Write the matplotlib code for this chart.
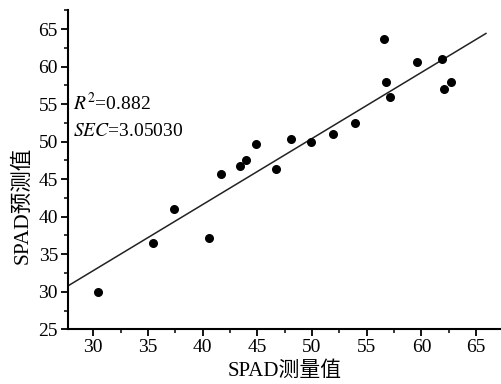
import numpy as np
import matplotlib
matplotlib.use('Agg')
import matplotlib.pyplot as plt
from matplotlib.ticker import MultipleLocator

plt.rcParams['font.family'] = ['Liberation Serif', 'Noto Sans CJK SC']
plt.rcParams['mathtext.fontset'] = 'stix'

measured = [30.4, 35.5, 37.4, 40.6, 41.7, 43.4, 44.0, 44.9, 46.7, 48.1,
            49.9, 51.9, 53.9, 56.6, 56.8, 57.1, 59.6, 61.9, 62.1, 62.7]
predicted = [30.0, 36.5, 41.0, 37.2, 45.7, 46.8, 47.6, 49.7, 46.4, 50.4,
             50.0, 51.0, 52.5, 63.7, 58.0, 55.9, 60.6, 61.0, 57.0, 58.0]

# fitted line as drawn
slope = 0.88
intercept = 6.42
line_x = [27.7, 65.9]

r2_text = r'$\mathit{R}^2$=0.882'
sec_text = r'$\mathit{SEC}$=3.05030'

fig = plt.figure(figsize=(5.01, 3.84), dpi=100)
ax = fig.add_axes([0.1351, 0.1424, 0.8649, 0.8308])

lx = np.array(line_x)
ax.plot(lx, slope * lx + intercept, color='#222222', lw=1.1)
ax.scatter(measured, predicted, s=30, color='black', zorder=3)

ax.text(28.15, 55.1, r2_text, fontsize=14, va='center', ha='left')
ax.text(28.15, 51.4, sec_text, fontsize=14, va='center', ha='left')

ax.set_xlim(27.66, 67.28)
ax.set_ylim(25, 67.5)
ax.xaxis.set_major_locator(MultipleLocator(5))
ax.xaxis.set_minor_locator(MultipleLocator(2.5))
ax.yaxis.set_major_locator(MultipleLocator(5))
ax.yaxis.set_minor_locator(MultipleLocator(2.5))

for s in ['top', 'right']:
    ax.spines[s].set_visible(False)
for s in ['left', 'bottom']:
    ax.spines[s].set_linewidth(1.5)

ax.tick_params(which='major', direction='out', length=5, width=1.3, labelsize=14, pad=2)
ax.tick_params(which='minor', direction='out', length=3, width=1.1)

ax.set_xlabel('SPAD测量值', fontsize=15)
ax.set_ylabel('SPAD预测值', fontsize=15.5)
ax.xaxis.set_label_coords(0.5015, -0.102)
ax.yaxis.set_label_coords(-0.082, 0.39)

fig.savefig('out.png', dpi=100)
